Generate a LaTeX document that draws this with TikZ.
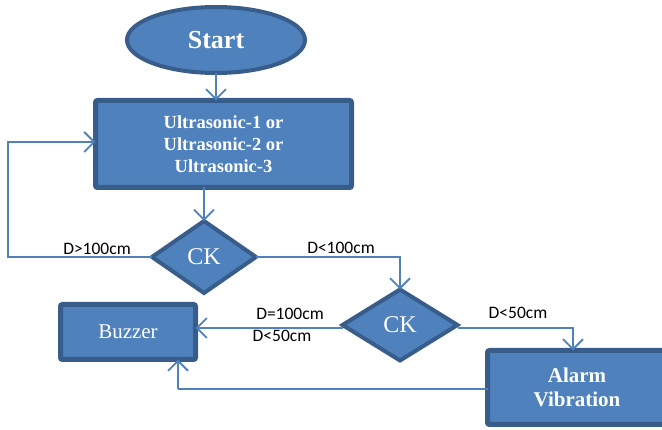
\documentclass[tikz,border=0pt]{standalone}
\usepackage{fontspec}
\setmainfont{Liberation Serif}
\newfontfamily\lblfont{Carlito}
\usetikzlibrary{shapes.geometric,arrows.meta}
\definecolor{boxfill}{HTML}{4F81BD}
\definecolor{boxedge}{HTML}{385D8A}
\definecolor{linkc}{HTML}{4F81BD}
\begin{document}
\begin{tikzpicture}[x=1pt,y=-1pt,
  every node/.style={inner sep=0pt, outer sep=0pt},
  termnode/.style={ellipse, draw=boxedge, fill=boxfill, line width=4pt, text=white,
    minimum width=178pt, minimum height=66pt, font=\fontsize{26}{30}\selectfont\bfseries},
  procbox/.style={rectangle, rounded corners=2pt, draw=boxedge, fill=boxfill, line width=5pt,
    text=white, align=center},
  decide/.style={diamond, aspect=1.45, draw=boxedge, fill=boxfill, line width=4pt, text=white,
    font=\fontsize{24}{28}\selectfont},
  link/.style={draw=linkc, line width=1.8pt, -{Straight Barb[length=10pt,width=20pt]}},
  plain/.style={draw=linkc, line width=1.8pt},
  lbl/.style={font=\lblfont\fontsize{17.5}{20}\selectfont, text=black}
]
\useasboundingbox (0,0) rectangle (662,430);

\node[termnode] (start) at (216,40) {Start};
\node[procbox, minimum width=256pt, minimum height=87pt,
  font=\fontsize{18.5}{22}\selectfont\bfseries] (sens) at (223.5,144)
  {Ultrasonic-1 or\\Ultrasonic-2 or\\Ultrasonic-3};
\node[decide, minimum width=104pt, minimum height=72pt] (ck1) at (204,257) {CK};
\node[decide, minimum width=115pt, minimum height=71pt] (ck2) at (400,325) {CK};
\node[procbox, minimum width=135pt, minimum height=55pt,
  font=\fontsize{21}{24}\selectfont] (buzz) at (128,332) {Buzzer};
\node[procbox, minimum width=179pt, minimum height=74pt,
  font=\fontsize{21}{24}\selectfont\bfseries] (alarm) at (577,387.5) {Alarm\\Vibration};

\coordinate (loop) at (8,142);
\coordinate (ret) at (178,389);

\draw[link] (start.south) -- (sens.north -| start.south);
\draw[link] (sens.south -| ck1.north) -- (ck1.north);
\draw[link] (ck1.west) -| (loop) -- (loop -| sens.west);
\draw[link] (ck1.east) -| (ck2.north);
\draw[link] ([yshift=-3pt]ck2.west) -- ([yshift=-3pt]ck2.west -| buzz.east);
\draw[link] ([yshift=-3pt]ck2.east) -| ([xshift=-4pt]alarm.north);
\draw[plain] (alarm.west |- ret) -- (ret);
\draw[link] (ret) -- (ret |- buzz.south);

\node[lbl] (l1) at (97,249) {D>100cm};
\node[lbl] (l2) at (341,248) {D<100cm};
\node[lbl] (l3) at (290,314) {D=100cm};
\node[lbl] (l4) at (282,336) {D<50cm};
\node[lbl] (l5) at (518,313) {D<50cm};
\end{tikzpicture}
\end{document}
